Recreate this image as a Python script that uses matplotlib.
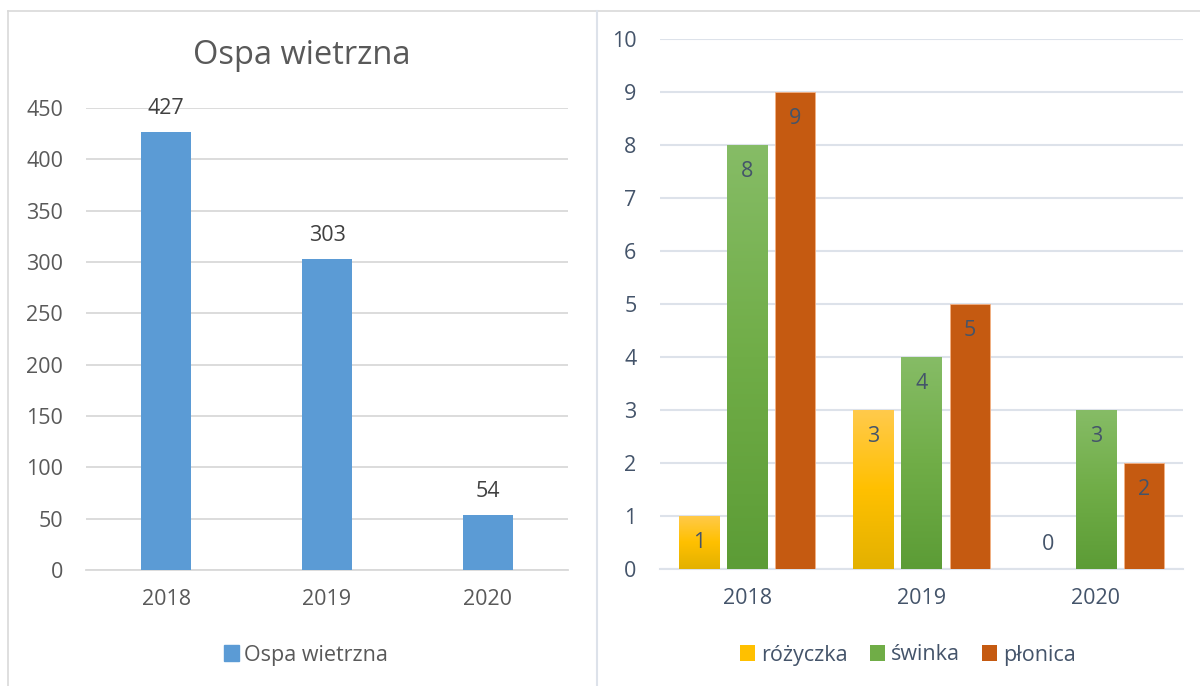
import matplotlib
matplotlib.use("Agg")
import matplotlib.pyplot as plt
import numpy as np
from matplotlib.colors import LinearSegmentedColormap
from matplotlib.patches import Patch
from matplotlib.lines import Line2D

years = ["2018", "2019", "2020"]
ospa = [427, 303, 54]
rozyczka = [1, 3, 0]
swinka = [8, 4, 3]
plonica = [9, 5, 2]

plt.rcParams['font.family'] = ['Open Sans', 'DejaVu Sans']

W, H = 1200, 686
fig = plt.figure(figsize=(12, 6.86), dpi=100)

def fx(p): return p / W
def fy(p): return 1 - p / H

FS = 15.5

# panel borders
border = '#D9D9D9'
fig.add_artist(Line2D([fx(8), fx(8)], [fy(11), 0], color=border, lw=1.2, transform=fig.transFigure))
fig.add_artist(Line2D([fx(8), fx(1200)], [fy(11), fy(11)], color=border, lw=1.2, transform=fig.transFigure))
fig.add_artist(Line2D([fx(597), fx(597)], [fy(11), 0], color='#DDE2EA', lw=1.5, transform=fig.transFigure))

# ---- left chart ----
axL = fig.add_axes([fx(86), fy(570), fx(482), (570 - 108) / H])
xL = np.arange(len(years))
barsL = axL.bar(xL, ospa, width=0.31, color='#5B9BD5', zorder=3, label='Ospa wietrzna')
axL.set_ylim(0, 450)
axL.set_xlim(-0.5, 2.5)
axL.set_yticks(np.arange(0, 451, 50))
axL.yaxis.grid(True, color='#D9D9D9', lw=1.3, zorder=0)
for s in axL.spines.values():
    s.set_visible(False)
axL.spines['bottom'].set_visible(True)
axL.spines['bottom'].set_color('#D9D9D9')
axL.spines['bottom'].set_linewidth(1.3)
axL.tick_params(length=0, labelsize=FS, labelcolor='#595959')
axL.tick_params(axis='y', pad=16.5)
axL.tick_params(axis='x', pad=14)
axL.set_xticks(xL)
axL.set_xticklabels(years)
for b, v in zip(barsL, ospa):
    axL.annotate(str(v), (b.get_x() + b.get_width() / 2, v), xytext=(0, 9),
                 textcoords='offset points', ha='center', va='bottom', fontsize=FS, color='#404040')
fig.text(fx(302), fy(56), 'Ospa wietrzna', ha='center', va='center', fontsize=23.5, color='#595959')
fig.legend(handles=[Patch(color='#5B9BD5', label='Ospa wietrzna')], loc='center',
           bbox_to_anchor=(fx(306), fy(655)), frameon=False, fontsize=FS, labelcolor='#595959',
           handlelength=0.7, handleheight=0.7, handletextpad=0.25)

# ---- right chart ----
axR = fig.add_axes([fx(660), fy(569), fx(523), (569 - 39) / H])
xR = np.arange(len(years))
w = 0.23
step = 0.276
series = [("różyczka", rozyczka, ['#FFCA4C', '#FFC000', '#E3B100']),
          ("świnka", swinka, ['#86BC66', '#70AD47', '#5C9C36']),
          ("płonica", plonica, ['#C55A11', '#C55A11', '#C55A11'])]
axR.set_ylim(0, 10)
axR.set_xlim(-0.5, 2.5)
handles = []
for i, (name, vals, cols) in enumerate(series):
    pos = xR + (i - 1) * step
    bars = axR.bar(pos, vals, width=w, color=cols[1], zorder=3,
                   edgecolor='#F4B183' if name == 'płonica' else 'none', linewidth=0.6)
    cmap = LinearSegmentedColormap.from_list(name, [cols[2], cols[1], cols[0]])
    grad = np.linspace(0, 1, 256).reshape(-1, 1)
    if name != 'płonica':
        for b in bars:
            if b.get_height() <= 0:
                continue
            im = axR.imshow(grad, cmap=cmap, origin='lower', aspect='auto',
                            extent=[b.get_x(), b.get_x() + b.get_width(), 0, b.get_height()],
                            zorder=3.5)
            im.set_clip_path(b)
    for p, v in zip(pos, vals):
        axR.text(p, max(v - 0.5, 0.47), str(v), ha='center', va='center', fontsize=FS,
                 color='#44546A', zorder=5)
    handles.append(Patch(facecolor=cols[1], label=name))
axR.set_xlim(-0.5, 2.5)
axR.set_ylim(0, 10)
axR.set_yticks(np.arange(0, 11, 1))
axR.yaxis.grid(True, color='#DDE2EA', lw=1.5, zorder=0)
for s in axR.spines.values():
    s.set_visible(False)
axR.spines['bottom'].set_visible(True)
axR.spines['bottom'].set_color('#DDE2EA')
axR.spines['bottom'].set_linewidth(1.5)
axR.tick_params(length=0, labelsize=FS, labelcolor='#44546A')
axR.tick_params(axis='y', pad=17)
axR.tick_params(axis='x', pad=14)
axR.set_xticks(xR)
axR.set_xticklabels(years)
fig.legend(handles=handles, loc='center', bbox_to_anchor=(fx(908), fy(655)), ncol=3,
           frameon=False, fontsize=FS, labelcolor='#44546A', handlelength=0.7,
           handleheight=0.7, handletextpad=0.3, columnspacing=1.0)

fig.savefig('out.png', dpi=100)
